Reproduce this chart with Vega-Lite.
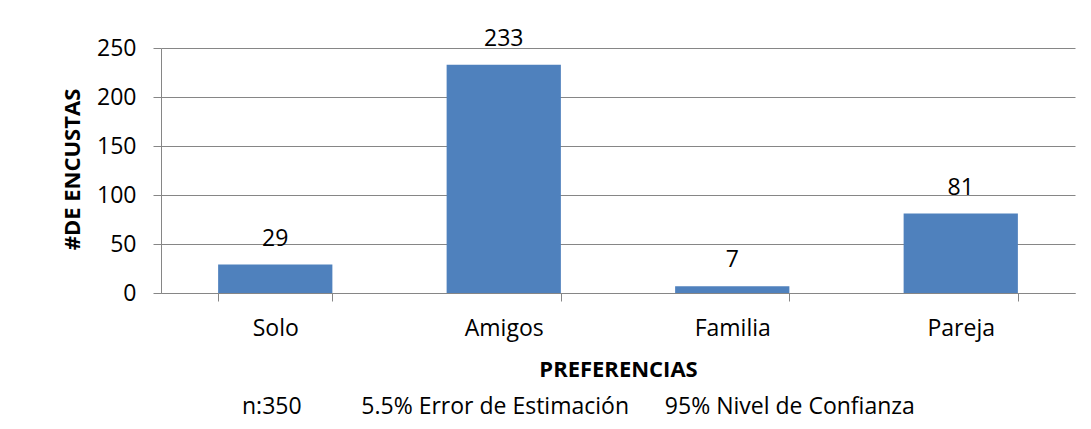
{
  "$schema": "https://vega.github.io/schema/vega-lite/v6.json",
  "width": 914,
  "height": 245,
  "autosize": {"type": "none"},
  "padding": {"left": 161, "top": 48, "right": 16, "bottom": 136},
  "background": "white",
  "data": {
    "values": [
      {"preferencia": "Solo", "encuestas": 29},
      {"preferencia": "Amigos", "encuestas": 233},
      {"preferencia": "Familia", "encuestas": 7},
      {"preferencia": "Pareja", "encuestas": 81}
    ]
  },
  "title": {
    "text": "n:350\u00a0\u00a0\u00a0\u00a0\u00a0\u00a0\u00a0\u00a0\u00a0\u00a05.5% Error de Estimación\u00a0\u00a0\u00a0\u00a0\u00a0\u00a095% Nivel de Confianza",
    "orient": "bottom",
    "anchor": "start",
    "frame": "group",
    "dx": 81,
    "offset": 16,
    "font": "Open Sans",
    "fontSize": 23,
    "fontWeight": "normal",
    "color": "black"
  },
  "encoding": {
    "x": {
      "field": "preferencia",
      "type": "nominal",
      "sort": null,
      "scale": {"paddingInner": 0.5, "paddingOuter": 0.25},
      "axis": {
        "title": "PREFERENCIAS",
        "labelAngle": 0,
        "grid": false,
        "domainColor": "#868686",
        "tickColor": "#868686",
        "tickSize": 8,
        "tickBand": "extent",
        "labelPadding": 16,
        "labelFont": "Open Sans",
        "labelFontSize": 23,
        "labelColor": "black",
        "titleFont": "Open Sans",
        "titleFontSize": 22,
        "titleFontWeight": "bold",
        "titleColor": "black",
        "titleBaseline": "alphabetic",
        "titleX": 457,
        "titleY": 83,
        "titleAlign": "center"
      }
    },
    "y": {
      "field": "encuestas",
      "type": "quantitative",
      "scale": {"domain": [0, 250]},
      "axis": {
        "title": "#DE ENCUSTAS",
        "values": [0, 50, 100, 150, 200, 250],
        "grid": true,
        "gridColor": "#868686",
        "domainColor": "#868686",
        "tickColor": "#868686",
        "tickSize": 8,
        "labelPadding": 17,
        "labelFont": "Open Sans",
        "labelFontSize": 23,
        "labelColor": "black",
        "titleFont": "Open Sans",
        "titleFontSize": 22,
        "titleFontWeight": "bold",
        "titleColor": "black",
        "titleAngle": -90,
        "titleBaseline": "middle",
        "titleAlign": "center",
        "titleX": -89,
        "titleY": 121
      }
    }
  },
  "layer": [
    {"mark": {"type": "bar", "color": "#4F81BD"}},
    {
      "mark": {"type": "text", "dy": -19, "baseline": "alphabetic", "font": "Open Sans", "fontSize": 23, "color": "black"},
      "encoding": {"text": {"field": "encuestas", "type": "quantitative"}}
    }
  ],
  "config": {"view": {"stroke": null}}
}
